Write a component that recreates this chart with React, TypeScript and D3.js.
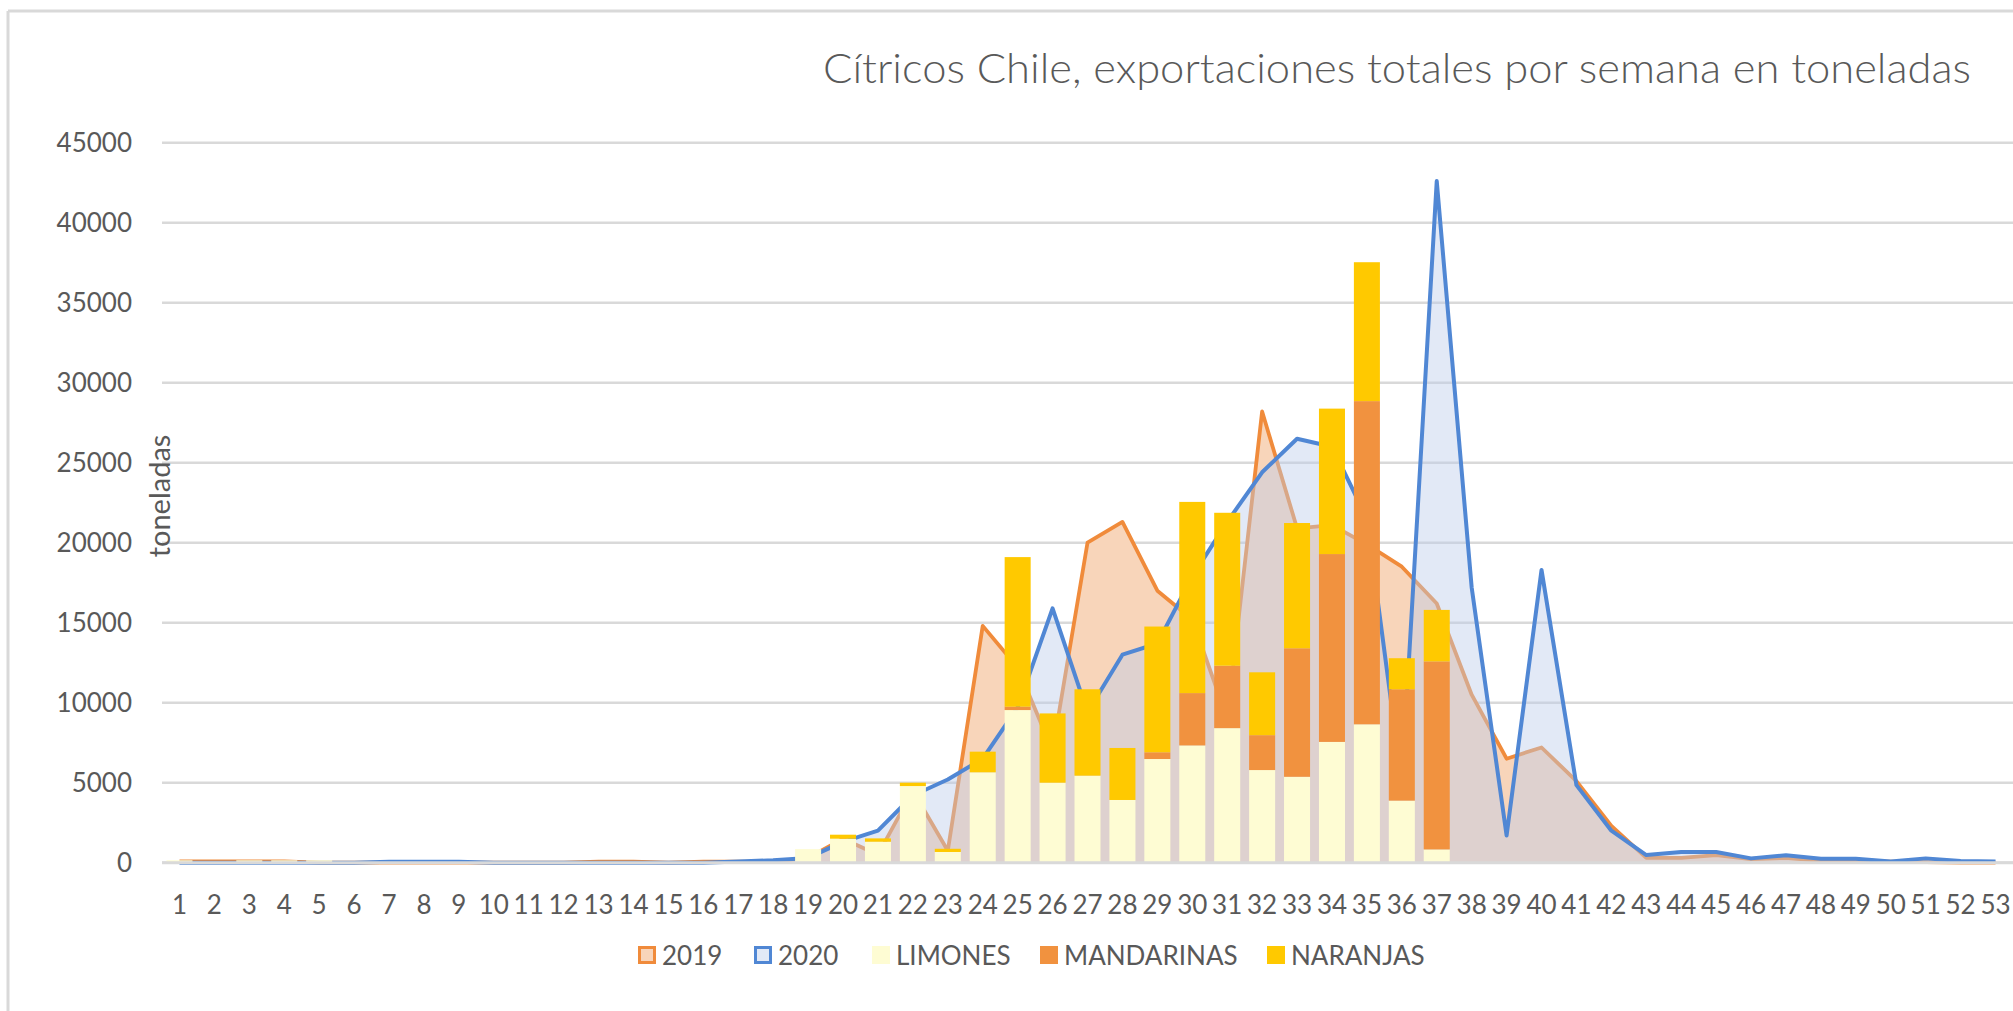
import React from "react";
import * as d3 from "d3";

const weeks = Array.from({ length: 53 }, (_, i) => String(i + 1));

const exp2019 = [
  80, 80, 80, 80, 0, 0, 0, 0, 0, 0,
  0, 0, 60, 60, 0, 60, 60, 50, 300, 1500,
  500, 4500, 750, 14800, 12200, 7000, 20000, 21300, 17000, 15200,
  9000, 28200, 20900, 21100, 19900, 18500, 16200, 10500, 6500, 7200,
  5100, 2300, 300, 300, 480, 230, 300, 120, 100, 60,
  30, 0, 0,
];

const exp2020 = [
  0, 0, 0, 0, 0, 0, 60, 60, 60, 0,
  0, 0, 0, 0, 0, 0, 80, 150, 300, 1300,
  2000, 4200, 5200, 6500, 9700, 15900, 9400, 13000, 13700, 17900,
  21300, 24400, 26500, 26000, 21500, 5000, 42600, 17200, 1700, 18300,
  4850, 2000, 480, 670, 670, 270, 460, 250, 250, 80,
  270, 100, 80,
];

const limones = [
  150, 0, 150, 150, 150, 0, 0, 0, 0, 0,
  0, 0, 0, 0, 0, 0, 0, 0, 850, 1500,
  1310, 4790, 670, 5650, 9540, 5000, 5440, 3920, 6480, 7330,
  8410, 5790, 5370, 7550, 8650, 3880, 830, 0, 0, 0,
  0, 0, 0, 0, 0, 0, 0, 0, 0, 0,
  0, 0, 0,
];

const mandarinas = [
  0, 0, 0, 0, 0, 0, 0, 0, 0, 0,
  0, 0, 0, 0, 0, 0, 0, 0, 0, 0,
  0, 0, 0, 0, 210, 0, 0, 0, 420, 3270,
  3900, 2180, 8030, 11740, 20200, 6960, 11750, 0, 0, 0,
  0, 0, 0, 0, 0, 0, 0, 0, 0, 0,
  0, 0, 0,
];

const naranjas = [
  0, 0, 0, 0, 0, 0, 0, 0, 0, 0,
  0, 0, 0, 0, 0, 0, 0, 0, 0, 250,
  210, 210, 200, 1290, 9350, 4330, 5400, 3250, 7860, 11950,
  9560, 3930, 7830, 9090, 8680, 1940, 3220, 0, 0, 0,
  0, 0, 0, 0, 0, 0, 0, 0, 0, 0,
  0, 0, 0,
];

const yTicks = [0, 5000, 10000, 15000, 20000, 25000, 30000, 35000, 40000, 45000];
const barKeys = ["LIMONES", "MANDARINAS", "NARANJAS"];
const barColors = ["#FEFCD3", "#F1923F", "#FFC900"];

const FONT = "Lato, 'Liberation Sans', sans-serif";
const TEXT = "#595959";

export default function App() {
  const W = 2013;
  const H = 1011;
  const left = 162;
  const right = 2013;
  const top = 142.7;
  const bottom = 862.7;

  const x = d3
    .scaleBand<string>()
    .domain(weeks)
    .range([left, right])
    .paddingInner(0.255)
    .paddingOuter(0.1275);
  const y = d3.scaleLinear().domain([0, 45000]).range([bottom, top]);
  const cx = (i: number) => (x(weeks[i]) as number) + x.bandwidth() / 2;

  const area = d3
    .area<number>()
    .x((_, i) => cx(i))
    .y0(y(0))
    .y1((d) => y(d));
  const line = d3
    .line<number>()
    .x((_, i) => cx(i))
    .y((d) => y(d));

  const table = weeks.map((w, i) => ({
    week: w,
    LIMONES: limones[i],
    MANDARINAS: mandarinas[i],
    NARANJAS: naranjas[i],
  }));
  const stacked = d3.stack<any>().keys(barKeys)(table);

  const legend = [
    { label: "2019", x: 638, kind: "area19" },
    { label: "2020", x: 754, kind: "area20" },
    { label: "LIMONES", x: 872, kind: "bar", color: barColors[0] },
    { label: "MANDARINAS", x: 1040, kind: "bar", color: barColors[1] },
    { label: "NARANJAS", x: 1267, kind: "bar", color: barColors[2] },
  ];

  return (
    <svg
      width={W}
      height={H}
      style={{ position: "absolute", left: 0, top: 0, background: "#fff" }}
      fontFamily={FONT}
    >
      <rect x={0} y={0} width={W} height={H} fill="#fff" />
      {/* chart border */}
      <line x1={8} x2={W} y1={11} y2={11} stroke="#D9D9D9" strokeWidth={3} />
      <line x1={8} x2={8} y1={11} y2={H} stroke="#D9D9D9" strokeWidth={3} />

      {/* title */}
      <text
        x={823}
        y={83}
        fontSize={42}
        fontWeight={300}
        fill={TEXT}
        textLength={1148}
        lengthAdjust="spacingAndGlyphs"
      >
        Cítricos Chile, exportaciones totales por semana en toneladas
      </text>

      {/* gridlines */}
      {yTicks.map((t) => (
        <line
          key={t}
          x1={left}
          x2={right}
          y1={y(t)}
          y2={y(t)}
          stroke="#D9D9D9"
          strokeWidth={2.5}
        />
      ))}

      {/* y labels */}
      {yTicks.map((t) => (
        <text
          key={"l" + t}
          x={132}
          y={y(t)}
          dy="0.36em"
          textAnchor="end"
          fontSize={26}
          fill={TEXT}
        >
          {String(t)}
        </text>
      ))}

      {/* areas */}
      <path d={area(exp2019) as string} fill="#F8D5BA" />
      <path
        d={line(exp2019) as string}
        fill="none"
        stroke="#F08B3B"
        strokeWidth={3.8}
        strokeLinejoin="round"
      />
      <path d={area(exp2020) as string} fill="rgb(187,204,234)" fillOpacity={0.43} />
      <path
        d={line(exp2020) as string}
        fill="none"
        stroke="#5087D4"
        strokeWidth={4}
        strokeLinejoin="round"
      />

      {/* stacked bars */}
      {stacked.map((s, k) => (
        <g key={s.key} fill={barColors[k]}>
          {s.map((d, i) =>
            d[1] - d[0] > 0 ? (
              <rect
                key={i}
                x={x(weeks[i])}
                width={x.bandwidth()}
                y={y(d[1])}
                height={y(d[0]) - y(d[1])}
              />
            ) : null
          )}
        </g>
      ))}

      {/* category axis line */}
      <line x1={left} x2={right} y1={y(0)} y2={y(0)} stroke="#D9D9D9" strokeWidth={3} />

      {/* x labels */}
      {weeks.map((w, i) => (
        <text
          key={"x" + w}
          x={cx(i)}
          y={914}
          textAnchor="middle"
          fontSize={26}
          fill={TEXT}
        >
          {w}
        </text>
      ))}

      {/* y axis title */}
      <text
        transform={`translate(${170},${496}) rotate(-90)`}
        textAnchor="middle"
        fontSize={29}
        fill={TEXT}
      >
        toneladas
      </text>

      {/* legend */}
      {legend.map((l) => (
        <g key={l.label}>
          {l.kind === "area19" ? (
            <rect x={l.x + 1.5} y={947.5} width={15} height={15} fill="#F8D5BA" stroke="#F08B3B" strokeWidth={3} />
          ) : l.kind === "area20" ? (
            <rect x={l.x + 1.5} y={947.5} width={15} height={15} fill="#E2E9F6" stroke="#5087D4" strokeWidth={3} />
          ) : (
            <rect x={l.x} y={946} width={18} height={18} fill={l.color} />
          )}
          <text x={l.x + 24} y={965} fontSize={26} fill={TEXT}>
            {l.label}
          </text>
        </g>
      ))}
    </svg>
  );
}
